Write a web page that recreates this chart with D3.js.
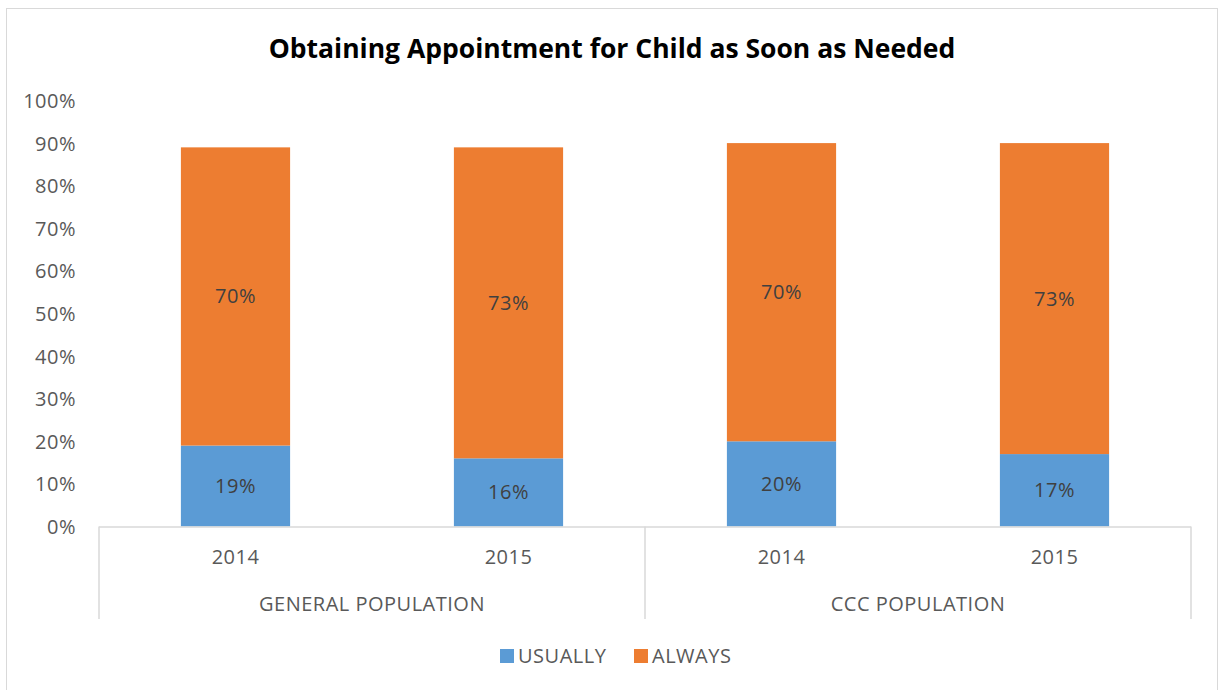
<!DOCTYPE html>
<html>
<head>
<meta charset="utf-8">
<script src="https://cdn.jsdelivr.net/npm/d3@7"></script>
<style>
  html, body { margin: 0; padding: 0; background: #fff; }
  svg text { font-family: "Open Sans", "Noto Sans", sans-serif; }
  .lbl { letter-spacing: 0.5px; }
</style>
</head>
<body>
<svg id="chart" width="1220" height="690"></svg>
<script>
// Chart data
const groups = ["GENERAL POPULATION", "CCC POPULATION"];
const years = ["2014", "2015"];
const usually = [19, 16, 20, 17];
const always = [70, 73, 70, 73];
const seriesNames = ["USUALLY", "ALWAYS"];
const seriesColors = ["#5b9bd5", "#ed7d31"];
const yTicks = [0, 10, 20, 30, 40, 50, 60, 70, 80, 90, 100];

// Build category rows (group × year)
const rows = [];
groups.forEach((g, gi) => years.forEach((yr, yi) => {
  const i = gi * years.length + yi;
  rows.push({ key: g + "|" + yr, group: g, year: yr, usually: usually[i], always: always[i] });
}));

const svg = d3.select("#chart");
const plotLeft = 99, plotRight = 1191, plotTop = 100.5, plotBottom = 526.5;
const labelSize = 20;

// Chart area border
svg.append("rect")
  .attr("x", 6.5).attr("y", 8.5).attr("width", 1211).attr("height", 700)
  .attr("fill", "#fff").attr("stroke", "#d9d9d9").attr("stroke-width", 1);

// Title
svg.append("text")
  .attr("x", 612).attr("y", 58)
  .attr("text-anchor", "middle")
  .attr("font-size", 26.5).attr("font-weight", "bold").attr("fill", "#000")
  .text("Obtaining Appointment for Child as Soon as Needed");

const x = d3.scaleBand().domain(rows.map(d => d.key)).range([plotLeft, plotRight]).paddingInner(0.6).paddingOuter(0.3);
const y = d3.scaleLinear().domain([0, 100]).range([plotBottom, plotTop]);

// Y axis labels (no axis line)
const yAxis = d3.axisLeft(y).tickValues(yTicks).tickFormat(d => d + "%").tickSize(0).tickPadding(0);
const yg = svg.append("g").attr("transform", `translate(76,0)`).call(yAxis);
yg.select(".domain").remove();
yg.selectAll("text").attr("class", "lbl").attr("font-size", labelSize).attr("fill", "#595959").attr("dy", "0.35em")
  .style("font-family", "'Open Sans', sans-serif");

// Stacked bars
const stack = d3.stack().keys(["usually", "always"]);
const stacked = stack(rows);
const barG = svg.append("g");
stacked.forEach((layer, li) => {
  barG.selectAll(null).data(layer).enter().append("rect")
    .attr("x", d => x(d.data.key))
    .attr("width", x.bandwidth())
    .attr("y", d => y(d[1]))
    .attr("height", d => y(d[0]) - y(d[1]))
    .attr("fill", seriesColors[li]);
  barG.selectAll(null).data(layer).enter().append("text")
    .attr("class", "lbl")
    .attr("x", d => x(d.data.key) + x.bandwidth() / 2)
    .attr("y", d => y((d[0] + d[1]) / 2))
    .attr("dy", "0.35em")
    .attr("text-anchor", "middle")
    .attr("font-size", labelSize).attr("fill", "#404040")
    .text(d => (d[1] - d[0]) + "%");
});

// Category axis: baseline, dividers and labels
const axisColor = "#d9d9d9";
svg.append("line").attr("x1", plotLeft).attr("x2", plotRight).attr("y1", plotBottom + 0.5).attr("y2", plotBottom + 0.5)
  .attr("stroke", axisColor).attr("stroke-width", 1.5);
const groupBounds = [plotLeft, (plotLeft + plotRight) / 2, plotRight];
groupBounds.forEach(gx => {
  svg.append("line").attr("x1", gx).attr("x2", gx).attr("y1", plotBottom).attr("y2", 619)
    .attr("stroke", axisColor).attr("stroke-width", 1.5);
});
svg.selectAll(".yr").data(rows).enter().append("text")
  .attr("class", "lbl")
  .attr("x", d => x(d.key) + x.bandwidth() / 2)
  .attr("y", 557).attr("dy", "0.35em")
  .attr("text-anchor", "middle").attr("font-size", labelSize).attr("fill", "#595959")
  .text(d => d.year);
svg.selectAll(".grp").data(groups).enter().append("text")
  .attr("class", "lbl")
  .attr("x", (d, i) => (groupBounds[i] + groupBounds[i + 1]) / 2)
  .attr("y", 604).attr("dy", "0.35em")
  .attr("text-anchor", "middle").attr("font-size", labelSize).attr("fill", "#595959")
  .text(d => d);

// Legend
const legendX = [500, 634];
const lg = svg.append("g");
seriesNames.forEach((name, i) => {
  lg.append("rect").attr("x", legendX[i]).attr("y", 649).attr("width", 14).attr("height", 14)
    .attr("fill", seriesColors[i]);
  lg.append("text").attr("class", "lbl").attr("x", legendX[i] + 18).attr("y", 656).attr("dy", "0.35em")
    .attr("font-size", labelSize).attr("fill", "#595959").text(name);
});
</script>
</body>
</html>
